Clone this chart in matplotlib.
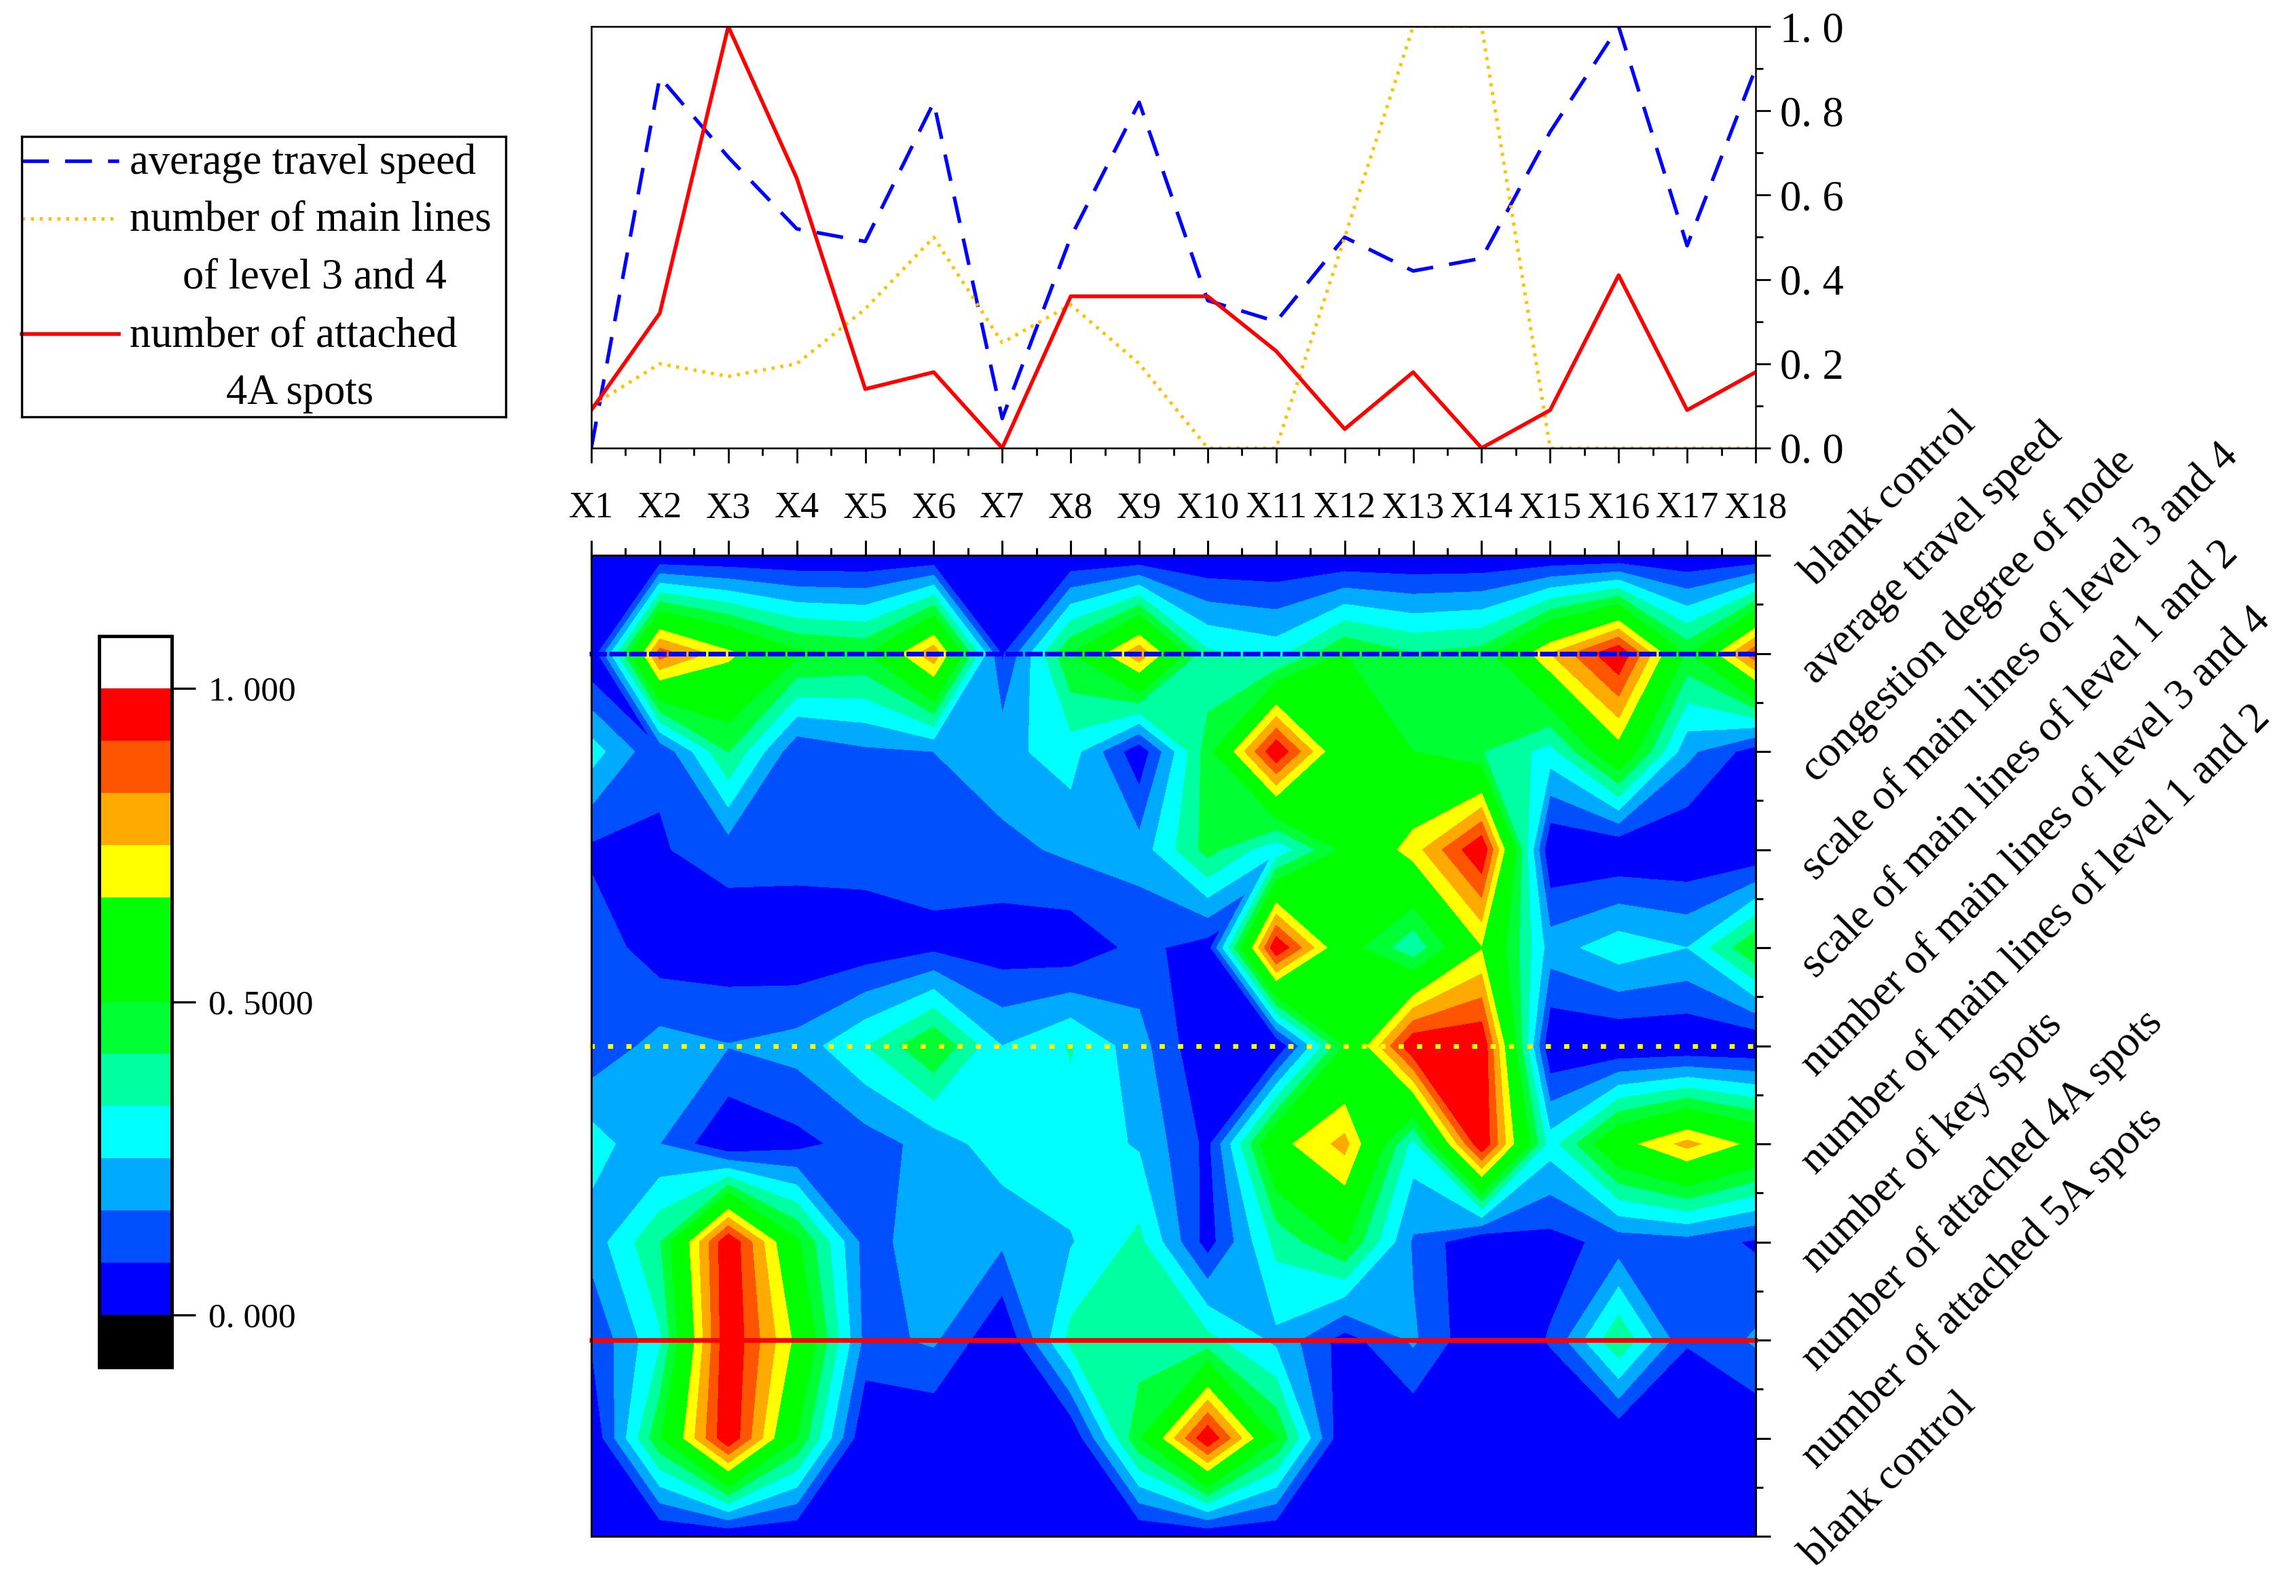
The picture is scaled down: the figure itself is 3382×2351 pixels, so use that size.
import numpy as np
import matplotlib
matplotlib.use('Agg')
import matplotlib.pyplot as plt
import matplotlib.tri as mtri
from matplotlib.colors import ListedColormap, BoundaryNorm
from matplotlib.transforms import ScaledTranslation

##### Data #####

x_labels = ['X%d' % i for i in range(1, 19)]
row_labels = ['blank control', 'average travel speed', 'congestion degree of node',
              'scale of main lines of level 3 and 4', 'scale of main lines of level 1 and 2',
              'number of main lines of level 3 and 4', 'number of main lines of level 1 and 2',
              'number of key spots', 'number of attached 4A spots',
              'number of attached 5A spots', 'blank control']

blank = [0] * 18
avg_speed = [0, .88, .69, .52, .49, .82, .07, .5, .82, .35, .3, .5, .42, .45, .75, 1.0, .48, .9]
congestion = [.29, .095, .42, .10, .15, .167, .225, .29, .02, .46, 1.0, .53, .50, .42, .30, .62, .19, .04]
scale_34 = [.066, .076, .12, .125, .12, .113, .14, .185, .2, .45, .27, .52, .71, 1.0, 0, 0, 0, 0]
scale_12 = [.14, .03, .025, .01, .03, .065, .035, .02, .11, .04, 1.0, .55, .35, .66, .21, .30, .25, .5]
lines_34 = [.1, .2, .17, .2, .33, .5, .25, .34, .2, 0, 0, .5, 1, 1, 0, 0, 0, 0]
lines_12 = [.295, .167, 0, .055, .125, .2, .30, .30, .24, .06, .63, .78, .3, 1.0, .29, .62, .78, .63]
key_spots = [.2, .41, 1.0, .52, .13, .22, .18, .243, .355, .045, .358, .51, .155, 0, .05, .115, .13, .07]
spots_4a = [.09, .32, 1.0, .64, .14, .18, 0, .36, .36, .36, .23, .045, .18, 0, .09, .41, .09, .18]
spots_5a = [0, .49, 1.0, .5, 0, 0, 0, 0, .49, 1.0, .5, 0, 0, 0, 0, 0, 0, 0]

levels = np.arange(13) / 12.0
band_colors = ['#0000ff', '#0050ff', '#00aaff', '#00ffff', '#00ffa0', '#00ff33',
               '#00ff00', '#00ff00', '#ffff00', '#ffaa00', '#ff5500', '#ff0000']

# grid cells (column, row, diagonal) where the low corners join up across the saddle
low_saddles = [(0, 1, 'down'), (0, 6, 'up'), (9, 3, 'up')]

################

W, H = 3382, 2351
plt.rcParams['font.family'] = ['Liberation Serif', 'DejaVu Serif']

def box(l, t, r, b):
    return [l / W, 1 - b / H, (r - l) / W, (b - t) / H]

x = np.arange(18)
y = np.arange(11)
Z = np.array([blank, avg_speed, congestion, scale_34, scale_12, lines_34,
              lines_12, key_spots, spots_4a, spots_5a, blank], dtype=float)
Zp = np.clip(Z, 0.0005, 0.9995)

cmap = ListedColormap(band_colors)
cmap.set_under('black')
cmap.set_over('white')
norm = BoundaryNorm(levels, cmap.N)

fig = plt.figure(figsize=(W / 100, H / 100), dpi=100)

# line plot on top
ax1 = fig.add_axes(box(871, 39, 2586, 660))
l1, = ax1.plot(x, avg_speed, color='#0000ff', lw=3.8, dashes=(7.5, 4.5))
l2, = ax1.plot(x, lines_34, color='#ffc000', lw=3.6, dashes=(0.9, 1.7))
l3, = ax1.plot(x, spots_4a, color='#ff0000', lw=4)
ax1.set_xlim(0, 17)
ax1.set_ylim(0, 1)
ax1.yaxis.tick_right()
ax1.set_xticks(x)
ax1.set_xticks(x[:-1] + 0.5, minor=True)
ax1.set_xticklabels(x_labels, fontsize=39)
ax1.set_yticks(np.arange(0, 1.01, 0.2))
ax1.set_yticks(np.arange(0.1, 1.0, 0.2), minor=True)
ax1.set_yticklabels(['%d. %d' % (int(v), round(v * 10) % 10) for v in np.arange(0, 1.01, 0.2)], fontsize=45)
ax1.tick_params(axis='x', which='major', length=16, width=2, pad=30)
ax1.tick_params(axis='x', which='minor', length=8, width=2)
ax1.tick_params(axis='y', which='major', length=16, width=2, pad=10)
ax1.tick_params(axis='y', which='minor', length=8, width=2)
for s in ax1.spines.values():
    s.set_linewidth(1.8)

# contour map
ax2 = fig.add_axes(box(871, 818, 2586, 2263))
cs = ax2.contourf(x, y, Zp, levels=levels, cmap=cmap, norm=norm, extend='both')
for i, j, diag in low_saddles:
    # corners: 0 top left, 1 top right, 2 bottom left, 3 bottom right
    cx = np.array([x[i], x[i + 1], x[i], x[i + 1]], dtype=float)
    cy = np.array([y[j], y[j], y[j + 1], y[j + 1]], dtype=float)
    cz = np.array([Zp[j, i], Zp[j, i + 1], Zp[j + 1, i], Zp[j + 1, i + 1]])
    if diag == 'down':
        tr = [[0, 1, 3], [0, 3, 2]]
    else:
        tr = [[0, 1, 2], [1, 3, 2]]
    ax2.tricontourf(mtri.Triangulation(cx, cy, tr), cz, levels=levels, cmap=cmap, norm=norm,
                    extend='both', zorder=2)
ax2.hlines(1, -0.03, 17.03, color='#0000ff', lw=5, linestyle=(0, (3.7, 0.5)), clip_on=False, zorder=5)
ax2.hlines(5, -0.03, 17.03, color='#ffff00', lw=5, linestyle=(0, (1.1, 2.8)), clip_on=False, zorder=5)
ax2.hlines(8, -0.03, 17.03, color='#ff0000', lw=5, clip_on=False, zorder=5)
ax2.set_xlim(0, 17)
ax2.set_ylim(10, 0)
ax2.xaxis.tick_top()
ax2.yaxis.tick_right()
ax2.set_xticks(x)
ax2.set_xticks(x[:-1] + 0.5, minor=True)
ax2.set_xticklabels([])
ax2.set_yticks(y)
ax2.set_yticks(y[:-1] + 0.5, minor=True)
ax2.set_yticklabels(row_labels, fontsize=45.5, rotation=45, rotation_mode='anchor', ha='left', va='center')
ax2.tick_params(axis='both', which='major', length=16, width=2.2)
ax2.tick_params(axis='both', which='minor', length=8, width=2.2)
ax2.tick_params(axis='y', which='major', pad=40)
for lab in ax2.get_yticklabels():
    lab.set_transform(lab.get_transform() + ScaledTranslation(0, -0.36, fig.dpi_scale_trans))
for s in ax2.spines.values():
    s.set_linewidth(2.2)
    s.set_zorder(6)

# colour scale
cax = fig.add_axes(box(146, 937, 253, 2014))
cbar = fig.colorbar(cs, cax=cax, ticks=[0, 0.5, 1], extend='both', extendfrac=1 / 12.0,
                    extendrect=True, spacing='proportional')
cbar.set_ticklabels(['0. 000', '0. 5000', '1. 000'], fontsize=37)
cbar.ax.tick_params(length=25, width=2.4, pad=14)
cbar.outline.set_linewidth(3.6)
cbar.ax.minorticks_off()

# legend box
lax = fig.add_axes(box(32, 201, 745, 614))
lax.set_xlim(0, 1)
lax.set_ylim(5, 0)
lax.set_xticks([])
lax.set_yticks([])
for s in lax.spines.values():
    s.set_linewidth(2.4)
lax.patch.set_alpha(0)
leg_x = [0, 0.2]
lax.plot(leg_x, [0.43, 0.43], color=l1.get_color(), lw=3.8, dashes=(7.5, 4.5), clip_on=False)
lax.plot(leg_x, [1.46, 1.46], color=l2.get_color(), lw=3.6, dashes=(0.9, 1.7), clip_on=False)
lax.plot(leg_x, [3.52, 3.52], color=l3.get_color(), lw=4, clip_on=False)
leg_lines = [(0.223, 0.48, 'average travel speed', 'left'),
             (0.223, 1.5, 'number of main lines', 'left'),
             (0.605, 2.53, 'of level 3 and 4', 'center'),
             (0.223, 3.56, 'number of attached', 'left'),
             (0.575, 4.59, '4A spots', 'center')]
for tx, ty, txt, al in leg_lines:
    lax.text(tx, ty, txt, fontsize=45, ha=al, va='center')

plt.savefig('out.png', dpi=100)
